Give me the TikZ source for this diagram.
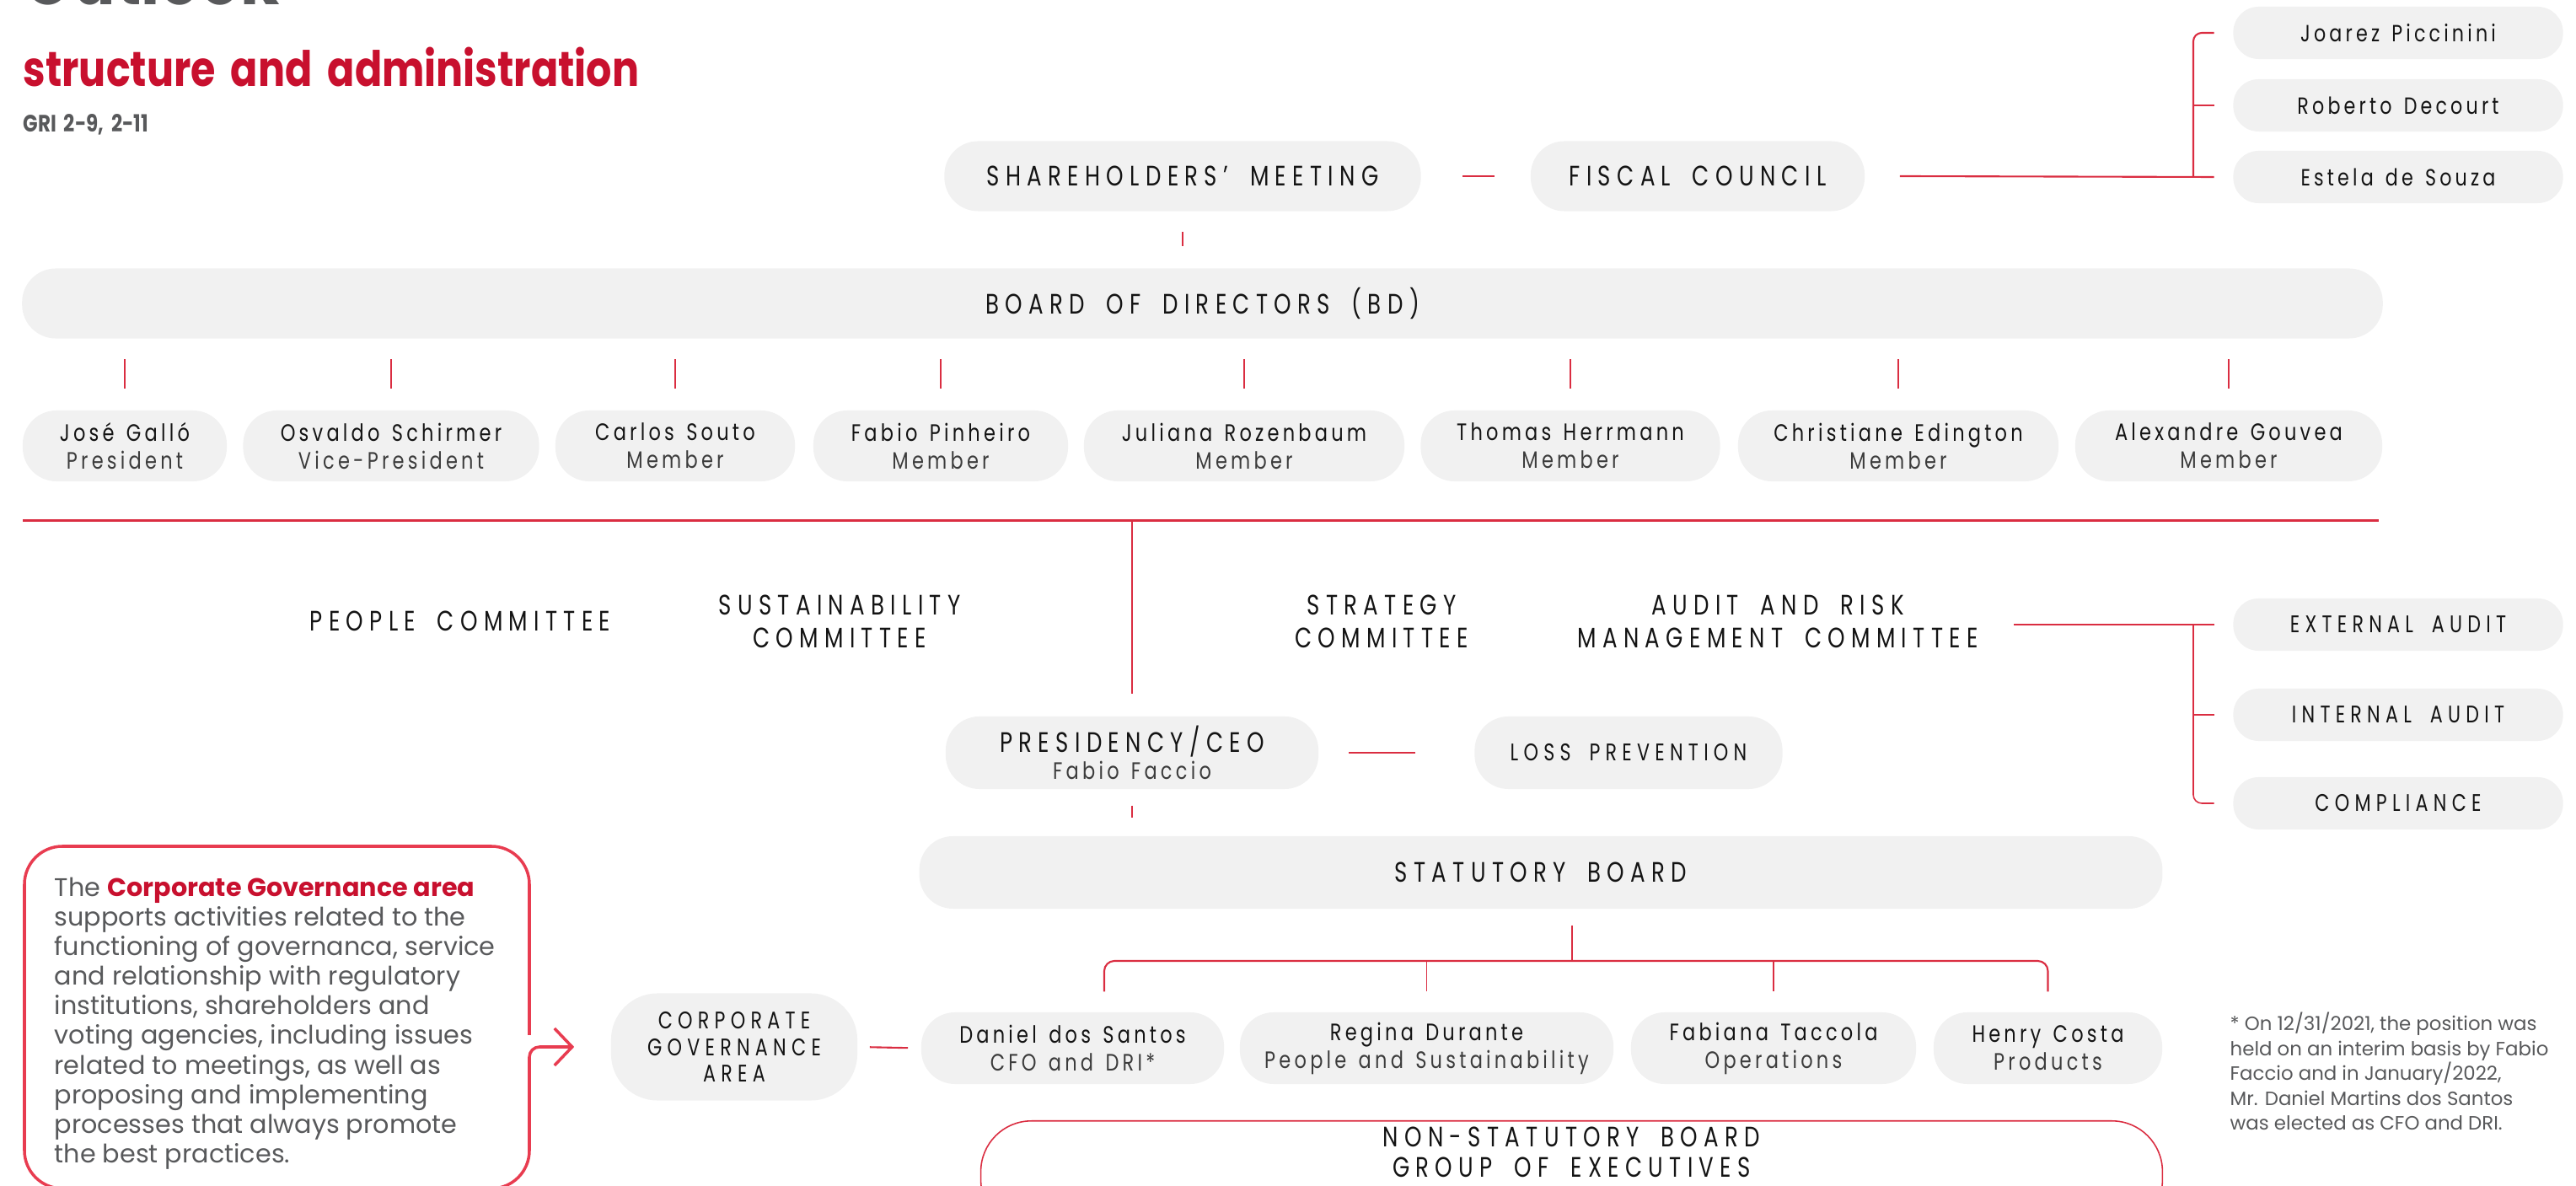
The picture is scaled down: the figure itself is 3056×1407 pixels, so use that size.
\documentclass[tikz,border=0pt]{standalone}
\usepackage{fontspec}
\usetikzlibrary{calc,arrows.meta}
\setmainfont{Poppins}
\newfontfamily\labfont[LetterSpace=22,FakeStretch=0.78,WordSpace=1.8]{Poppins}
\newfontfamily\namefont[LetterSpace=15,FakeStretch=0.8,WordSpace=1.4]{Poppins}
\newfontfamily\bodyfont{Poppins}
\newfontfamily\titlefont[FakeStretch=0.82,WordSpace=1.8]{Poppins}
\definecolor{cred}{RGB}{200,16,46}
\definecolor{lred}{RGB}{218,45,65}
\definecolor{fred}{RGB}{232,60,80}
\definecolor{boxg}{RGB}{241,241,241}
\definecolor{txt}{RGB}{20,20,20}
\definecolor{rtxt}{RGB}{60,60,60}
\definecolor{gtxt}{RGB}{88,89,91}
\tikzset{
 pill/.style={fill=boxg, rounded corners=0.4cm, inner sep=0pt, align=center},
 spill/.style={fill=boxg, rounded corners=0.3cm, inner sep=0pt, minimum width=3.91cm, minimum height=0.62cm, align=center},
 labtxt/.style={font=\labfont\fontsize{9.5}{11}\selectfont, text=txt},
 slab/.style={font=\labfont\fontsize{8.1}{9}\selectfont, text=txt},
 nametxt/.style={font=\namefont\fontsize{8}{9.4}\selectfont, text=txt},
 sname/.style={font=\namefont\fontsize{7.9}{9}\selectfont, text=txt},
 conn/.style={draw=lred, line width=0.6pt},
}
\begin{document}
\begin{tikzpicture}[x=0.01cm,y=-0.01cm]
\useasboundingbox (0,0) rectangle (3056,1407);
\clip (0,0) rectangle (3056,1407);

% titles
\node[anchor=base west, inner sep=0pt, text=gtxt, font=\titlefont\bfseries\fontsize{26}{30}\selectfont] (outl) at (27,6) {Outlook};
\node[anchor=base west, inner sep=0pt, text=cred, font=\titlefont\bfseries\fontsize{16.5}{18}\selectfont] (ttl) at (27,103) {structure and administration};
\node[anchor=base west, inner sep=0pt, text=gtxt, font=\titlefont\bfseries\fontsize{8}{9}\selectfont] (gri) at (27,157) {GRI 2-9, 2-11};

% top row
\node[pill, labtxt, minimum width=5.65cm, minimum height=0.83cm] (sh) at (1403,209) {SHAREHOLDERS’ MEETING};
\node[pill, labtxt, minimum width=3.96cm, minimum height=0.83cm] (fc) at (2014,209) {FISCAL COUNCIL};
\node[spill, sname] (p1) at (2845,39) {Joarez Piccinini};
\node[spill, sname] (p2) at (2845,125) {Roberto Decourt};
\node[spill, sname] (p3) at (2845,210) {Estela de Souza};

% board
\node[pill, labtxt, minimum width=27.99cm, minimum height=0.83cm] (bd) at (1426.5,360) {BOARD OF DIRECTORS (BD)};
\node[pill, nametxt, minimum width=2.42cm, minimum height=0.84cm] (m1) at (148,529) {José Galló\\{\color{rtxt}President}};
\node[pill, nametxt, minimum width=3.51cm, minimum height=0.84cm] (m2) at (464,529) {Osvaldo Schirmer\\{\color{rtxt}Vice-President}};
\node[pill, nametxt, minimum width=2.84cm, minimum height=0.84cm] (m3) at (801,529) {Carlos Souto\\{\color{rtxt}Member}};
\node[pill, nametxt, minimum width=3.02cm, minimum height=0.84cm] (m4) at (1116,529) {Fabio Pinheiro\\{\color{rtxt}Member}};
\node[pill, nametxt, minimum width=3.80cm, minimum height=0.84cm] (m5) at (1476,529) {Juliana Rozenbaum\\{\color{rtxt}Member}};
\node[pill, nametxt, minimum width=3.55cm, minimum height=0.84cm] (m6) at (1863,529) {Thomas Herrmann\\{\color{rtxt}Member}};
\node[pill, nametxt, minimum width=3.80cm, minimum height=0.84cm] (m7) at (2252,529) {Christiane Edington\\{\color{rtxt}Member}};
\node[pill, nametxt, minimum width=3.64cm, minimum height=0.84cm] (m8) at (2644,529) {Alexandre Gouvea\\{\color{rtxt}Member}};

% committees
\node[labtxt, align=center] (pc) at (546,737) {PEOPLE COMMITTEE};
\node[labtxt, align=center] (sc) at (996,737) {SUSTAINABILITY\\COMMITTEE};
\node[labtxt, align=center] (stc) at (1639,737) {STRATEGY\\COMMITTEE};
\node[labtxt, align=center] (aud) at (2109,737) {AUDIT AND RISK\\MANAGEMENT COMMITTEE};
\node[spill, slab] (ea) at (2845,741) {EXTERNAL AUDIT};
\node[spill, slab] (ia) at (2845,848) {INTERNAL AUDIT};
\node[spill, slab] (co) at (2845,953) {COMPLIANCE};

% executive
\node[pill, labtxt, minimum width=4.42cm, minimum height=0.86cm] (ceo) at (1343,893) {PRESIDENCY/CEO\\[-2pt]{\namefont\fontsize{8}{9.4}\selectfont\color{rtxt}Fabio Faccio}};
\node[pill, slab, minimum width=3.65cm, minimum height=0.86cm] (loss) at (1932,893) {LOSS PREVENTION};
\node[pill, labtxt, minimum width=14.74cm, minimum height=0.86cm] (stat) at (1828,1035) {STATUTORY BOARD};
\node[pill, nametxt, minimum width=3.59cm, minimum height=0.85cm] (e1) at (1272.5,1243.5) {Daniel dos Santos\\{\color{rtxt}CFO and DRI*}};
\node[pill, nametxt, minimum width=4.43cm, minimum height=0.85cm] (e2) at (1692.5,1243.5) {Regina Durante\\{\color{rtxt}People and Sustainability}};
\node[pill, nametxt, minimum width=3.38cm, minimum height=0.85cm] (e3) at (2104,1243.5) {Fabiana Taccola\\{\color{rtxt}Operations}};
\node[pill, nametxt, minimum width=2.71cm, minimum height=0.85cm] (e4) at (2429.5,1243.5) {Henry Costa\\{\color{rtxt}Products}};
\node[fill=boxg, rounded corners=0.55cm, inner sep=0pt, align=center, minimum width=2.92cm, minimum height=1.27cm, font=\labfont\fontsize{8.1}{9}\selectfont, text=txt] (cg) at (871,1242) {CORPORATE\\GOVERNANCE\\AREA};
\node[draw=lred, line width=0.45pt, rounded corners=0.6cm, minimum width=14.01cm, minimum height=1.3cm, anchor=north, inner sep=0pt] (ns) at (1864.5,1329) {};
\node[align=center, font=\labfont\fontsize{9.5}{10.4}\selectfont, text=txt] (nst) at (1864.5,1367) {NON-STATUTORY BOARD\\GROUP OF EXECUTIVES};

% paragraph and footnote
\node[anchor=west, align=left, inner sep=0pt, text=gtxt, font=\bodyfont\fontsize{8.6}{10}\selectfont] (para) at (64,1214) {The {\color{cred}\bfseries Corporate Governance area}\\supports activities related to the\\functioning of governanca, service\\and relationship with regulatory\\institutions, shareholders and\\voting agencies, including issues\\related to meetings, as well as\\proposing and implementing\\processes that always promote\\the best practices.};
\node[anchor=west, align=left, inner sep=0pt, text=gtxt, font=\fontsize{6.5}{8.4}\selectfont] (fn) at (2645,1271) {* On 12/31/2021, the position was\\held on an interim basis by Fabio\\Faccio and in January/2022,\\Mr. Daniel Martins dos Santos\\was elected as CFO and DRI.};

% connectors
\coordinate (fx) at (2602,0);
\draw[conn, shorten <=0.49cm, shorten >=0.42cm] (sh.east) -- (fc.west);
\draw[conn] ([xshift=0.41cm]fc.east) -- ([xshift=-0.22cm]p3.west);
\draw[conn, rounded corners=0.1cm] ([xshift=-0.22cm]p1.west) -| (fx |- p3.west);
\draw[conn] ([xshift=-0.22cm]p2.west) -- (fx |- p2.west);
\draw[conn, line width=0.45pt, shorten <=0.24cm, shorten >=0.26cm] (sh.south) -- (sh.south |- bd.north);
\foreach \m in {m1,m2,m3,m4,m5,m6,m7,m8}
  \draw[conn, line width=0.45pt, shorten <=0.24cm, shorten >=0.25cm] (\m.north |- bd.south) -- (\m.north);
\coordinate (hl) at (27,618);
\coordinate (hr) at (2822,618);
\draw[conn, line width=0.85pt] (hl) -- (hr);
\draw[conn, line width=0.45pt, shorten >=0.26cm] (ceo.north |- hl) -- (ceo.north);
\draw[conn] ($(aud.east |- ea.west)+(30,0)$) -- ([xshift=-0.22cm]ea.west);
\draw[conn, line width=0.45pt, rounded corners=0.1cm] (fx |- ea.west) |- ([xshift=-0.22cm]co.west);
\draw[conn] (fx |- ia.west) -- ([xshift=-0.22cm]ia.west);
\draw[conn, shorten <=0.35cm, shorten >=0.7cm] (ceo.east) -- (loss.west);
\draw[conn, shorten <=0.19cm, shorten >=0.21cm] (ceo.south) -- (ceo.south |- stat.north);
\coordinate (tb) at (1865,1140);
\coordinate (tl) at (1310,1140);
\draw[conn, line width=0.45pt, shorten <=0.19cm] (stat.south -| tb) -- (tb);
\draw[conn, rounded corners=0.12cm] ($(tl |- e1.north)+(0,-24)$) -- (tl) -- (e4.north |- tl) -- ($(e4.north)+(0,-24)$);
\draw[conn, line width=0.45pt] (e2.north |- tl) -- ($(e2.north)+(0,-24)$);
\draw[conn, line width=0.45pt] (e3.north |- tl) -- ($(e3.north)+(0,-24)$);
\draw[conn, shorten <=0.14cm, shorten >=0.15cm] (cg.east) -- (e1.west);
% frame with arrow
\draw[draw=fred, line width=1pt, rounded corners=0.45cm] (628,1228) -- (628,1004) -- (29,1004) -- (29,1410) -- (628,1410) -- (628,1300);
\draw[draw=fred, line width=1pt, rounded corners=0.12cm, -{Straight Barb[length=0.21cm, width=0.44cm]}] (628,1310) -- (628,1242) -- ($(cg.west)+(-43,0)$);
\end{tikzpicture}
\end{document}
